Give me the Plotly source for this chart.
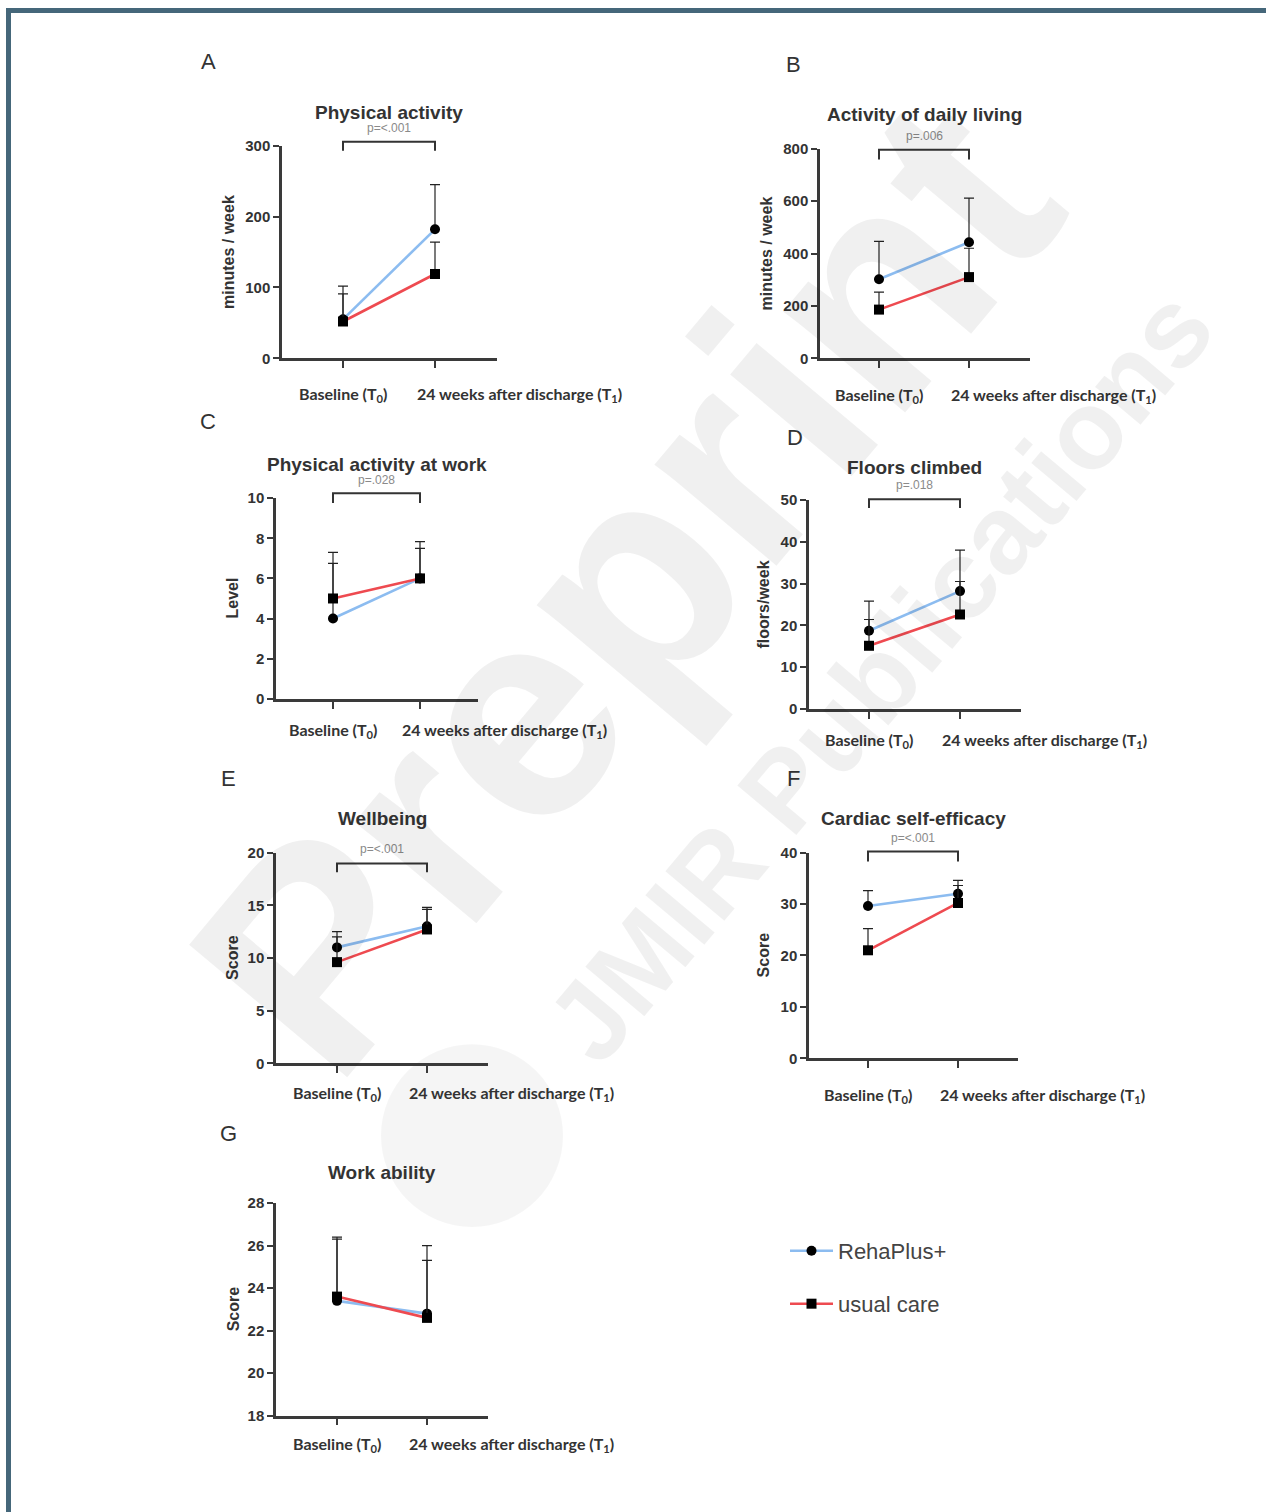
import plotly.graph_objects as go

W, H = 1266, 1512

# ---------------- data ----------------
categories = ["Baseline (T<sub>0</sub>)", "24 weeks after discharge (T<sub>1</sub>)"]
letters = ["A", "B", "C", "D", "E", "F", "G"]
titles = ["Physical activity", "Activity of daily living", "Physical activity at work",
          "Floors climbed", "Wellbeing", "Cardiac self-efficacy", "Work ability"]
ylabels = ["minutes / week", "minutes / week", "Level", "floors/week", "Score", "Score", "Score"]
p_values = ["p=<.001", "p=.006", "p=.028", "p=.018", "p=<.001", "p=<.001", None]
series_names = ["RehaPlus+", "usual care"]

reha_mean = [[55, 182], [302, 443], [4, 6], [18.7, 28.2], [11.0, 13.0], [29.6, 32.0], [23.4, 22.8]]
reha_upper = [[102, 245], [446, 611], [6.75, 7.83], [25.8, 38.0], [12.5, 14.8], [32.6, 34.6], [26.3, 26.0]]
usual_mean = [[52, 119], [186, 310], [5, 6], [15.1, 22.6], [9.6, 12.7], [21.0, 30.2], [23.6, 22.6]]
usual_upper = [[91, 164], [253, 420], [7.3, 7.5], [21.4, 30.5], [12.0, 14.6], [25.2, 33.6], [26.4, 25.3]]

y_min = [0, 0, 0, 0, 0, 0, 18]
y_max = [300, 800, 10, 50, 20, 40, 28]
y_step = [100, 200, 2, 10, 5, 10, 2]

# ---------------- geometry (pixels, as seen in the target picture) ----------------
# left, right, top, bottom of axes; x pixel of the two category ticks
geom = [
    (282, 497, 144, 357, 343, 435),
    (820, 1030, 147, 357, 879, 969),
    (276, 478, 497, 698, 333, 420),
    (809, 1021, 499, 708, 869, 960),
    (276, 488, 852, 1063, 337, 427),
    (809, 1018, 852, 1058, 868, 958),
    (276, 488, 1203, 1416, 337, 427),
]
letter_pos = [(208, 60), (793, 63), (208, 420), (795, 436), (228, 778), (793, 778), (228, 1133)]
ylabel_off = [54, 53, 44, 46, 43, 46, 43]
cat_gap = [36, 37, 32, 32, 30, 37, 29]
title_gap = [33, 34, 34, 33, 34, 34, 31]
p_gap = [14, 14, 13, 14, 14, 14, 14]
bracket_dy = [4, -1, 5, 1, -11, 1, 0]      # bracket bar height above axis top (px)
bracket_leg = [9, 10, 10, 9, 9, 10, 0]


def fy(y):
    # compensate for the vertical mapping of the page capture
    return (y - 7.1) / 0.9903


BLUE = "#8cbcf0"
RED = "#ee4a50"
AX = "#3a3a3a"
TXT = "#333333"
FONT = "Liberation Sans, Arial, sans-serif"
TICKFONT = "Lato, Liberation Sans, sans-serif"

fig = go.Figure()
shapes = []
annotations = []

for i in range(7):
    L, R, T, B, t0, t1 = geom[i]
    T, B = fy(T), fy(B)
    n = "" if i == 0 else str(i + 1)
    xr = "x" + n
    yr = "y" + n
    unit = t1 - t0
    r0 = -(t0 - L) / unit
    r1 = 1 + (R - t1) / unit

    for mean, upper, col, sym, name, leg in [
        (reha_mean[i], reha_upper[i], BLUE, "circle", series_names[0], "legend"),
        (usual_mean[i], usual_upper[i], RED, "square", series_names[1], "legend2"),
    ]:
        fig.add_trace(go.Scatter(
            x=[0, 1], y=mean, mode="lines+markers", name=name,
            xaxis=xr, yaxis=yr, legend=leg, showlegend=(i == 0),
            line=dict(color=col, width=2.6),
            marker=dict(symbol=sym, color="black", size=10),
            error_y=dict(type="data", symmetric=False,
                         array=[u - m for u, m in zip(upper, mean)],
                         arrayminus=[0, 0], color="#222222", thickness=1.2, width=5),
            cliponaxis=False,
        ))

    xkey = "xaxis" + n
    ykey = "yaxis" + n
    fig.update_layout(**{
        xkey: dict(domain=[L / W, R / W], range=[r0, r1], anchor=yr,
                   showline=True, linecolor=AX, linewidth=2.5,
                   tickvals=[0, 1], ticks="outside", ticklen=7, tickwidth=2,
                   tickcolor=AX, showticklabels=False, showgrid=False, zeroline=False,
                   fixedrange=True),
        ykey: dict(domain=[1 - B / H, 1 - T / H], range=[y_min[i], y_max[i]], anchor=xr,
                   showline=True, linecolor=AX, linewidth=2.5,
                   tickmode="linear", tick0=y_min[i], dtick=y_step[i],
                   ticks="outside", ticklen=6, tickwidth=2, tickcolor=AX,
                   tickfont=dict(family=FONT, size=15, color=TXT, weight="bold"),
                   showgrid=False, zeroline=False, fixedrange=True),
    })

    hpx = B - T
    dref_x = xr + " domain"
    dref_y = yr + " domain"

    # title
    annotations.append(dict(text="<b>" + titles[i] + "</b>", xref=xr, x=0.5, yref=dref_y, y=1,
                            yshift=title_gap[i], showarrow=False, xanchor="center",
                            yanchor="middle", font=dict(family=FONT, size=19, color=TXT)))
    # y label
    annotations.append(dict(text="<b>" + ylabels[i] + "</b>", xref=dref_x, x=0,
                            xshift=-ylabel_off[i], yref=dref_y, y=0.5, textangle=-90,
                            showarrow=False, xanchor="center", yanchor="middle",
                            font=dict(family=FONT, size=16, color=TXT)))
    # category labels
    annotations.append(dict(text=categories[0], xref=xr, x=0, yref=dref_y, y=0,
                            yshift=-cat_gap[i], showarrow=False, xanchor="center",
                            yanchor="middle",
                            font=dict(family=TICKFONT, size=16, color=TXT, weight="bold")))
    annotations.append(dict(text=categories[1], xref=xr, x=1, xshift=-20, yref=dref_y, y=0,
                            yshift=-cat_gap[i], showarrow=False, xanchor="left",
                            yanchor="middle",
                            font=dict(family=TICKFONT, size=16, color=TXT, weight="bold")))
    # panel letter
    lx, ly = letter_pos[i]
    annotations.append(dict(text=letters[i], xref="paper", yref="paper", x=lx / W,
                            y=1 - fy(ly) / H, showarrow=False, xanchor="center",
                            yanchor="middle", font=dict(family=FONT, size=22, color=TXT)))
    # significance bracket
    if p_values[i]:
        fx0 = (0 - r0) / (r1 - r0)
        fx1 = (1 - r0) / (r1 - r0)
        ytop = 1 + bracket_dy[i] / hpx
        ybot = ytop - bracket_leg[i] / hpx
        shapes.append(dict(type="path", xref=dref_x, yref=dref_y,
                           path=f"M{fx0},{ybot} L{fx0},{ytop} L{fx1},{ytop} L{fx1},{ybot}",
                           line=dict(color="#333333", width=2)))
        annotations.append(dict(text=p_values[i], xref=xr, x=0.5, yref=dref_y, y=ytop,
                                yshift=p_gap[i], showarrow=False, xanchor="center",
                                yanchor="middle", borderpad=0,
                                font=dict(family=FONT, size=12, color="#8a8a8a")))

# watermark
annotations.append(dict(text="<b>Preprint</b>", xref="paper", yref="paper", x=625 / W,
                        y=1 - fy(585) / H, textangle=-50, showarrow=False, xanchor="center",
                        yanchor="middle",
                        font=dict(family=FONT, size=300, color="rgba(0,0,0,0.06)")))
annotations.append(dict(text="<b>JMIR Publications</b>", xref="paper", yref="paper",
                        x=880 / W, y=1 - fy(675) / H, textangle=-50, showarrow=False,
                        xanchor="center", yanchor="middle",
                        font=dict(family=FONT, size=112, color="rgba(0,0,0,0.06)")))
shapes.append(dict(type="circle", xref="paper", yref="paper", layer="below",
                   x0=381 / W, x1=563 / W, y0=1 - fy(1227) / H, y1=1 - fy(1044) / H,
                   fillcolor="rgba(0,0,0,0.04)", line=dict(width=0)))

# frame border
shapes.append(dict(type="rect", xref="paper", yref="paper", x0=6 / W, x1=1,
                   y0=1 - fy(11) / H, y1=1 - fy(6) / H,
                   fillcolor="#45677a", line=dict(width=0)))
shapes.append(dict(type="rect", xref="paper", yref="paper", x0=6 / W, x1=11 / W, y0=-0.02,
                   y1=1 - fy(6) / H, fillcolor="#45677a", line=dict(width=0)))

fig.update_layout(
    width=W, height=H, margin=dict(l=0, r=0, t=0, b=0),
    paper_bgcolor="white", plot_bgcolor="rgba(0,0,0,0)",
    shapes=shapes, annotations=annotations,
    legend=dict(x=785 / W, y=1 - fy(1251) / H, xanchor="left", yanchor="middle",
                font=dict(family=FONT, size=22, color="#444444"), itemwidth=43,
                bgcolor="rgba(0,0,0,0)"),
    legend2=dict(x=785 / W, y=1 - fy(1304) / H, xanchor="left", yanchor="middle",
                 font=dict(family=FONT, size=22, color="#444444"), itemwidth=43,
                 bgcolor="rgba(0,0,0,0)"),
)

fig.write_html(
    "out.html",
    config={"displayModeBar": False},
    post_script="document.body.style.margin='0px';document.body.style.padding='0px';"
                "document.body.style.overflow='hidden';",
)
